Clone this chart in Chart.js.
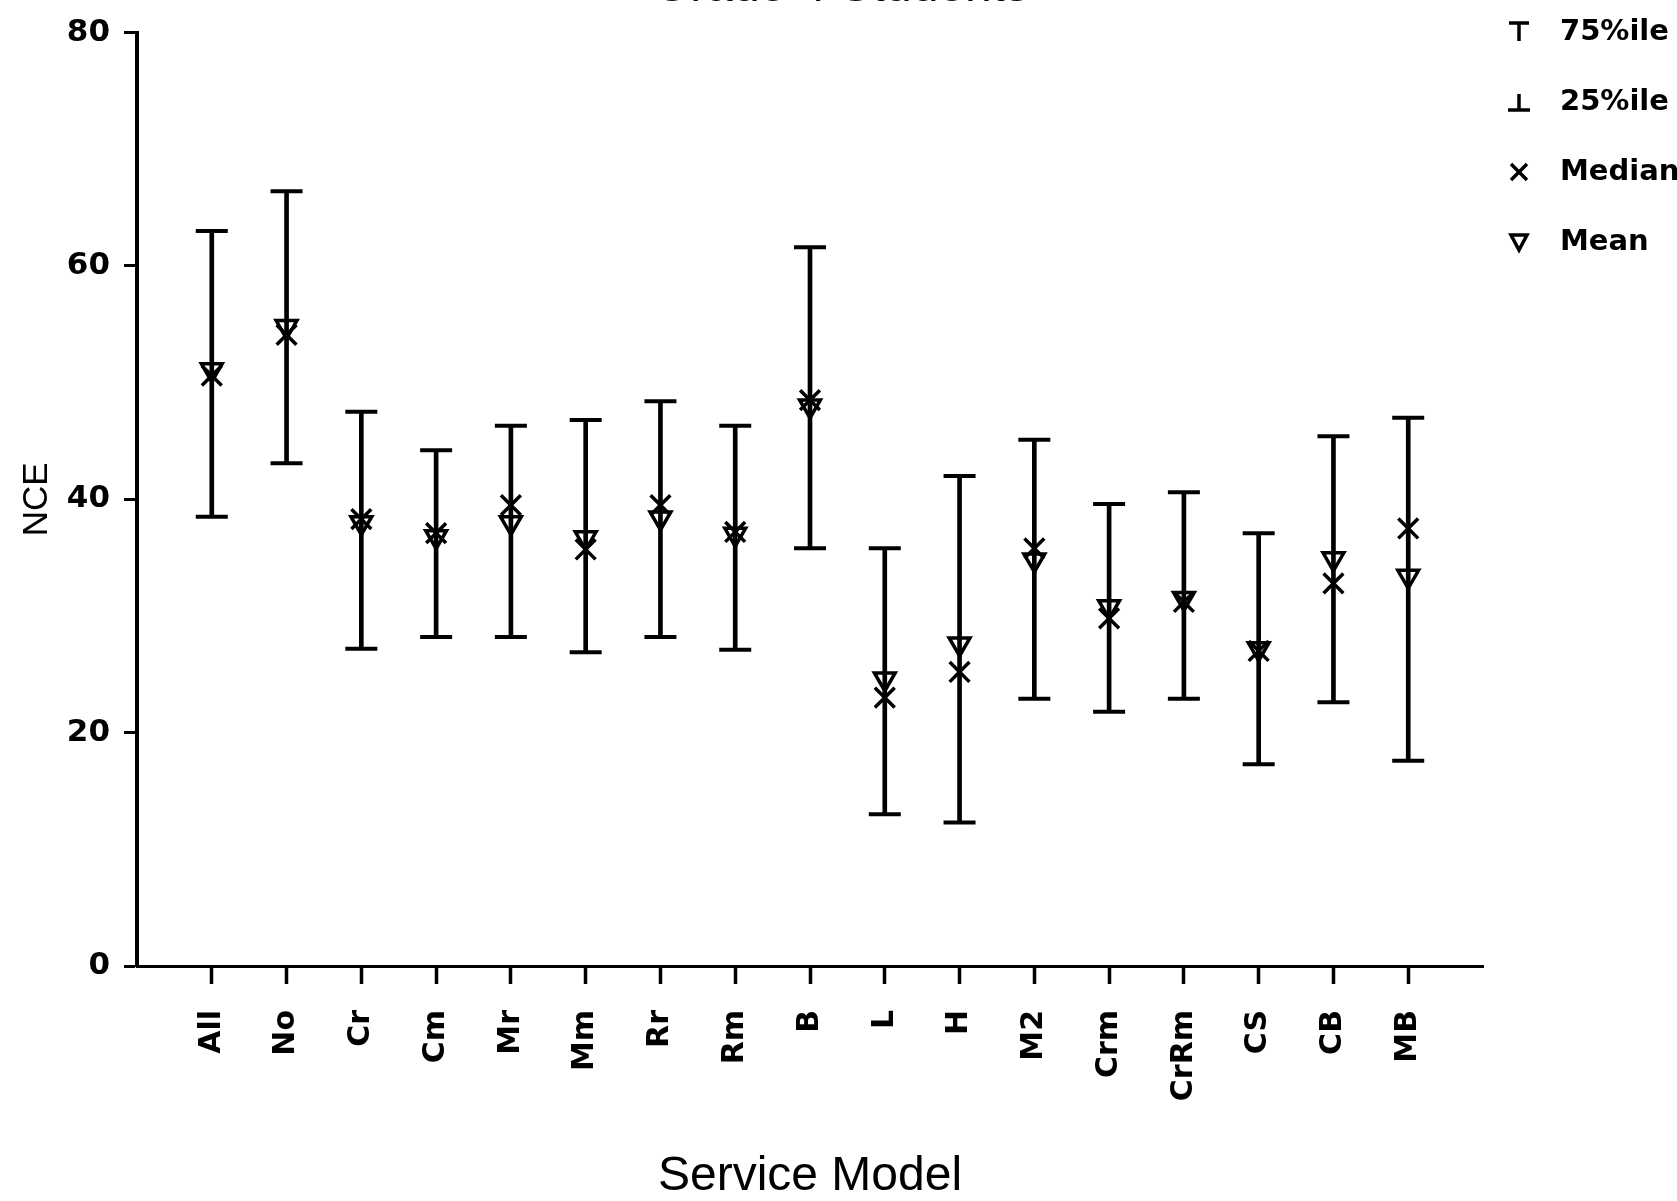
<!DOCTYPE html>
<html><head><meta charset="utf-8">
<script src="https://cdn.jsdelivr.net/npm/chart.js@4/dist/chart.umd.min.js"></script>
<style>html,body{margin:0;padding:0;background:#fff;}canvas{display:block;}</style>
</head><body>
<canvas id="c" width="1677" height="1201"></canvas>
<script>
const chartTitle = 'Grade 4 Students';
const xTitle = 'Service Model';
const yTitle = 'NCE';
const categories = ['All','No','Cr','Cm','Mr','Mm','Rr','Rm','B','L','H','M2','Crm','CrRm','CS','CB','MB'];
const p75     = [63.0,66.4,47.5,44.2,46.3,46.8,48.4,46.3,61.6,35.8,42.0,45.1,39.6,40.6,37.1,45.4,47.0];
const p25     = [38.5,43.1,27.2,28.2,28.2,26.9,28.2,27.1,35.8,13.0,12.3,22.9,21.8,22.9,17.3,22.6,17.6];
const medians = [50.6,54.1,38.3,37.1,39.5,35.7,39.5,37.2,48.5,23.0,25.2,35.8,29.8,31.2,27.0,32.8,37.5];
const means   = [51.1,54.8,38.0,36.8,38.0,36.7,38.4,37.0,48.0,24.6,27.6,34.8,30.8,31.5,27.2,34.9,33.4];
const yTicks  = [0,20,40,60,80];

const pts = arr => arr.map((v,i)=>({x:i,y:v}));

function drawSymbol(ctx, kind, x, y){
  ctx.beginPath();
  if (kind==='top'){ ctx.moveTo(x-10,y-9); ctx.lineTo(x+10,y-9); ctx.moveTo(x,y-9); ctx.lineTo(x,y+9); }
  else if (kind==='bottom'){ ctx.moveTo(x,y-8); ctx.lineTo(x,y+8); ctx.moveTo(x-11,y+8); ctx.lineTo(x+11,y+8); }
  else if (kind==='x'){ ctx.moveTo(x-8,y-8); ctx.lineTo(x+8,y+8); ctx.moveTo(x+8,y-8); ctx.lineTo(x-8,y+8); }
  else if (kind==='tri'){ ctx.moveTo(x-8,y-7); ctx.lineTo(x+8,y-7); ctx.lineTo(x,y+8); ctx.closePath(); }
  ctx.stroke();
}

const extras = {
  id:'extras',
  afterDraw(chart){
    const ctx = chart.ctx;
    ctx.save();
    ctx.fillStyle='#000'; ctx.strokeStyle='#000'; ctx.lineWidth=3.5;
    // title (clipped at top edge as in the source)
    ctx.font='48px "Liberation Sans"'; ctx.textAlign='center'; ctx.textBaseline='alphabetic';
    ctx.fillText(chartTitle, 841, 1);
    // legend
    ctx.font='bold 29px "DejaVu Sans"'; ctx.textAlign='left'; ctx.textBaseline='middle';
    const items = chart.data.datasets.filter(d=>d.legendSymbol);
    items.forEach((d,k)=>{
      const y = 32 + k*70;
      drawSymbol(ctx, d.legendSymbol, 1519, y);
      ctx.fillText(d.label, 1560, y);
    });
    ctx.restore();
  }
};

new Chart(document.getElementById('c'), {
  type:'bar',
  data:{
    datasets:[
      {type:'scatter', label:'75%ile', legendSymbol:'top', data:pts(p75), pointStyle:'line', radius:16, borderWidth:4, borderColor:'#000', backgroundColor:'#000'},
      {type:'scatter', label:'25%ile', legendSymbol:'bottom', data:pts(p25), pointStyle:'line', radius:16, borderWidth:4, borderColor:'#000', backgroundColor:'#000'},
      {type:'scatter', label:'Median', legendSymbol:'x', data:pts(medians), pointStyle:'crossRot', radius:14, borderWidth:3.5, borderColor:'#000', backgroundColor:'#000'},
      {type:'scatter', label:'Mean', legendSymbol:'tri', data:pts(means), pointStyle:'triangle', rotation:180, radius:12, borderWidth:3.5, borderColor:'#000', backgroundColor:'rgba(255,255,255,0)'},
      {type:'bar', label:'range', order:10, data:categories.map((c,i)=>({x:i,y:[p25[i],p75[i]]})), backgroundColor:'#000', borderWidth:0, barThickness:4}
    ]
  },
  options:{
    responsive:false, animation:false, events:[],
    layout:{padding:{top:27,right:194,bottom:0,left:0}},
    plugins:{legend:{display:false}, tooltip:{enabled:false}, title:{display:false}},
    scales:{
      x:{type:'linear', min:-1, max:categories.length, offset:false,
        afterBuildTicks:s=>{ s.ticks = categories.map((_,i)=>({value:i})); },
        afterFit:s=>{ s.height = 235; },
        ticks:{autoSkip:false, minRotation:90, maxRotation:90, padding:26, color:'#000',
          font:{family:'DejaVu Sans', size:30, weight:'bold'}, callback:v=>categories[v] ?? ''},
        grid:{display:true, offset:false, drawOnChartArea:false, drawTicks:true, tickLength:18, tickWidth:3.5, tickColor:'#000'},
        border:{display:true, color:'#000', width:3},
        title:{display:true, text:xTitle, color:'#000', font:{family:'Liberation Sans', size:48, lineHeight:1}, padding:{top:0,bottom:0}}
      },
      y:{min:0, max:80,
        afterBuildTicks:s=>{ s.ticks = yTicks.map(v=>({value:v})); },
        afterFit:s=>{ s.width = 137; },
        ticks:{padding:14, color:'#000', font:{family:'DejaVu Sans', size:31, weight:'bold'}},
        grid:{display:true, drawOnChartArea:false, tickLength:13, tickWidth:3, tickColor:'#000'},
        border:{display:true, color:'#000', width:4},
        title:{display:true, text:yTitle, color:'#000', font:{family:'Liberation Sans', size:35, lineHeight:1}, padding:{top:20,bottom:0}}
      }
    }
  },
  plugins:[extras]
});
</script>
</body></html>
